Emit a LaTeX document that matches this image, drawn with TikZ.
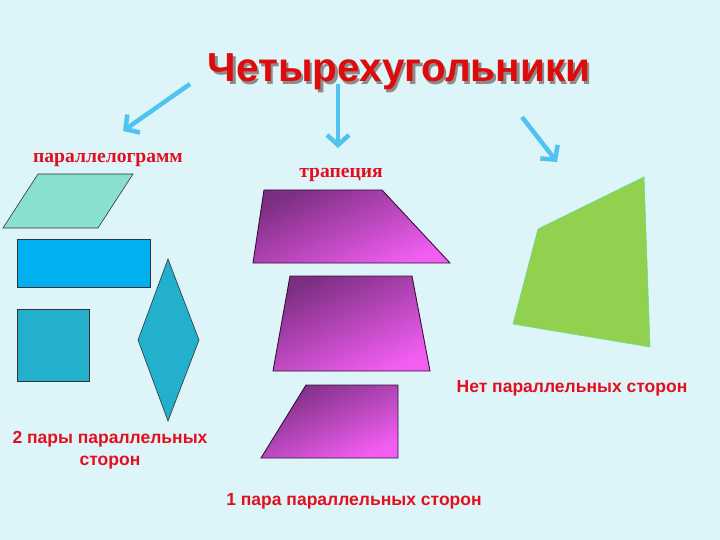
\documentclass[tikz,border=0pt]{standalone}
\usepackage{fontspec}
\setmainfont{Liberation Serif}
\newfontfamily\headfont{Liberation Sans}
\usetikzlibrary{arrows.meta}
\definecolor{bgcyan}{RGB}{221,244,249}
\definecolor{arrowblue}{RGB}{80,196,240}
\definecolor{titlered}{RGB}{222,10,12}
\definecolor{textred}{RGB}{226,16,30}
\definecolor{pgramfill}{RGB}{138,224,206}
\definecolor{rectfill}{RGB}{0,176,240}
\definecolor{tealfill}{RGB}{34,176,204}
\definecolor{trapdark}{RGB}{124,46,130}
\definecolor{trapmid}{RGB}{186,70,186}
\definecolor{trappink}{RGB}{242,94,242}
\definecolor{trapedge}{RGB}{52,18,56}
\definecolor{greenfill}{RGB}{146,208,80}
\newcommand{\shadowed}[1]{\makebox[0pt][l]{\hspace{2.5pt}\raisebox{-2.5pt}{\color{black!45}#1}}#1}
\begin{document}
\begin{tikzpicture}[x=1pt,y=-1pt,
  pointer/.style={draw=arrowblue, line width=4.5pt, -{Straight Barb[length=10pt,width=22pt]}},
  edge/.style={draw=black!80, line width=0.6pt},
  trap/.style={left color=trapdark, middle color=trapmid, right color=trappink, shading angle=25},
  serifname/.style={text=textred, font=\fontsize{19.6}{22}\selectfont\bfseries, anchor=base},
  sansnote/.style={text=textred, font=\headfont\fontsize{17.5}{22}\selectfont\bfseries, anchor=base, align=center}]
  \fill[bgcyan] (0,0) rectangle (720,540);
  % heading
  \node[text=titlered, font=\headfont\fontsize{40.5}{48}\selectfont\bfseries, anchor=base] (title) at (399,82) {\shadowed{Четырехугольники}};
  % arrows
  \coordinate (a1s) at (190,84);
  \coordinate (a1e) at (123,131);
  \coordinate (a2s) at (338,84);
  \coordinate (a2e) at (338,148);
  \coordinate (a3s) at (522,117);
  \coordinate (a3e) at (557,162);
  \draw[pointer] (a1s) -- (a1e);
  \draw[pointer] (a2s) -- (a2e);
  \draw[pointer] (a3s) -- (a3e);
  % names
  \node[serifname] (pgram) at (108,163) {параллелограмм};
  \node[serifname] (trapname) at (341,178) {трапеция};
  % parallelograms
  \filldraw[edge, fill=pgramfill] (38,174) -- (133,174) -- (98,228) -- (3,228) -- cycle;
  \filldraw[edge, fill=rectfill] (17,239) rectangle (150,287);
  \filldraw[edge, fill=tealfill] (17,309) rectangle (89,381);
  \filldraw[edge, fill=tealfill] (168,259) -- (199,340) -- (168,421) -- (138,340) -- cycle;
  % trapezoids
  \shade[trap] (264,190) -- (382,190) -- (450,263) -- (253,263) -- cycle;
  \draw[trapedge, line width=0.9pt] (264,190) -- (382,190) -- (450,263) -- (253,263) -- cycle;
  \shade[trap] (290,276) -- (412,276) -- (430,371) -- (273,371) -- cycle;
  \draw[trapedge, line width=0.9pt] (290,276) -- (412,276) -- (430,371) -- (273,371) -- cycle;
  \shade[trap] (306,385) -- (398,385) -- (398,458) -- (261,458) -- cycle;
  \draw[trapedge, line width=0.9pt] (306,385) -- (398,385) -- (398,458) -- (261,458) -- cycle;
  % other quadrilateral
  \filldraw[fill=greenfill, draw=greenfill!70!cyan, line width=0.6pt] (644,177) -- (538,229) -- (513,324) -- (650,347) -- cycle;
  % notes
  \node[sansnote] (twopairs) at (110,465) {2 пары параллельных\\сторон};
  \node[sansnote] (onepair) at (354,505) {1 пара параллельных сторон};
  \node[sansnote] (nopairs) at (572,392) {Нет параллельных сторон};
\end{tikzpicture}
\end{document}
